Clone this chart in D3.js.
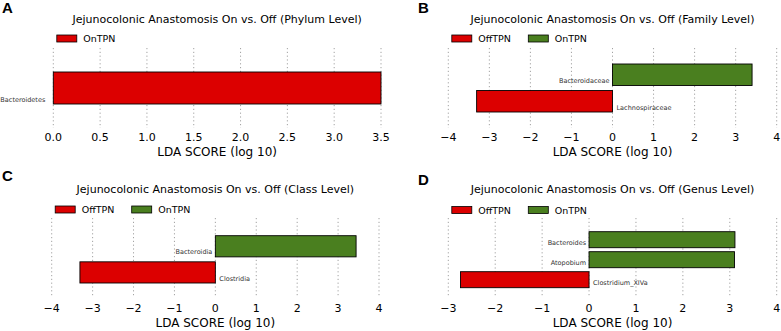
<!DOCTYPE html>
<html>
<head>
<meta charset="utf-8">
<script src="https://cdn.jsdelivr.net/npm/d3@7"></script>
<style>
  body { margin: 0; background: #fff; }
  svg { display: block; font-family: "DejaVu Sans", sans-serif; }
  .grid line { stroke: #8a8a8a; stroke-width: 0.8; stroke-dasharray: 1.2,2.6; }
  .tick-label { font-size: 11px; fill: #000; text-anchor: middle; }
  .feat-label { font-size: 6.5px; fill: #333; }
</style>
</head>
<body>
<div id="chart"></div>
<script>
// data
var phylumNames = ['Bacteroidetes'];
var phylumScores = [3.5];

var familyNames = ['Bacteroidaceae', 'Lachnospiraceae'];
var familyScores = [3.40, -3.31];

var classNames = ['Bacteroidia', 'Clostridia'];
var classScores = [3.44, -3.31];

var genusNames = ['Bacteroides', 'Atopobium', 'Clostridium_XIVa'];
var genusScores = [3.11, 3.10, -2.74];

var phylumTicks = [0, 0.5, 1, 1.5, 2, 2.5, 3, 3.5];
var wideTicks = [-4, -3, -2, -1, 0, 1, 2, 3, 4];
var genusTicks = [-3, -2, -1, 0, 1, 2, 3, 4];

var red = '#dc0000';
var green = '#4a7f1f';

var svgWidth = 781;
var svgHeight = 331;

var svg = d3.select('#chart')
  .append('svg')
  .attr('width', svgWidth)
  .attr('height', svgHeight);

svg.append('rect').attr('width', svgWidth).attr('height', svgHeight).attr('fill', '#fff');

// panel layouts; legend entries carry their own colour (panel A draws OnTPN in red)
var panels = [
  { letter: 'A', lx: 2, ly: 13, titleY: 23, title: 'Jejunocolonic Anastomosis On vs. Off (Phylum Level)',
    names: phylumNames, scores: phylumScores, ticks: phylumTicks, fmt: d3.format('.1f'),
    domain: [0, 3.5], x0: 53.3, x1: 381, top: 48, bottom: 128, barTop: 72, barBottom: 104, pad: 0,
    gap: 8, legend: [['OnTPN', red]], posColor: red, negColor: red, legY: 35, tickY: 140.5, labelY: 155.5 },
  { letter: 'B', lx: 418, ly: 13, titleY: 23, title: 'Jejunocolonic Anastomosis On vs. Off (Family Level)',
    names: familyNames, scores: familyScores, ticks: wideTicks, fmt: d3.format('d'),
    domain: [-4, 4], x0: 448.3, x1: 776.7, top: 48, bottom: 128, barTop: 64, barBottom: 112, pad: 0.19,
    gap: 3, legend: [['OffTPN', red], ['OnTPN', green]], posColor: green, negColor: red,
    legY: 35, tickY: 140.5, labelY: 155.5 },
  { letter: 'C', lx: 2, ly: 181, titleY: 193, title: 'Jejunocolonic Anastomosis On vs. Off (Class Level)',
    names: classNames, scores: classScores, ticks: wideTicks, fmt: d3.format('d'),
    domain: [-4, 4], x0: 51.7, x1: 379, top: 218, bottom: 297, barTop: 235.7, barBottom: 283, pad: 0.19,
    gap: 3, legend: [['OffTPN', red], ['OnTPN', green]], posColor: green, negColor: red,
    legY: 206, tickY: 311.5, labelY: 326.5 },
  { letter: 'D', lx: 418, ly: 185, titleY: 193, title: 'Jejunocolonic Anastomosis On vs. Off (Genus Level)',
    names: genusNames, scores: genusScores, ticks: genusTicks, fmt: d3.format('d'),
    domain: [-3, 4], x0: 448.3, x1: 776.7, top: 218, bottom: 297, barTop: 231.7, barBottom: 287.7, pad: 0.2,
    gap: 3, legend: [['OffTPN', red], ['OnTPN', green]], posColor: green, negColor: red,
    legY: 206.5, tickY: 311.5, labelY: 326.5 }
];

panels.forEach(drawPanel);

function drawPanel(p) {
  var g = svg.append('g');
  var xScale = d3.scaleLinear().domain(p.domain).range([p.x0, p.x1]);
  var yScale = d3.scaleBand().domain(p.names).range([p.barTop, p.barBottom])
    .paddingInner(p.pad).paddingOuter(0);
  var midX = (p.x0 + p.x1) / 2;

  // panel letter
  g.append('text')
    .attr('x', p.lx).attr('y', p.ly)
    .style('font-family', '"Liberation Sans", Arial, sans-serif')
    .style('font-weight', 'bold').style('font-size', '15px')
    .text(p.letter);

  g.append('text')
    .attr('x', midX).attr('y', p.titleY)
    .attr('text-anchor', 'middle')
    .style('font-size', '11px')
    .text(p.title);

  // legend
  p.legend.forEach(function(item, i) {
    var lx = p.x0 + 3.5 + i * 76.5;
    g.append('rect')
      .attr('x', lx).attr('y', p.legY)
      .attr('width', 20).attr('height', 7)
      .attr('fill', item[1])
      .attr('stroke', '#000').attr('stroke-width', 0.8);
    g.append('text')
      .attr('x', lx + 26.5).attr('y', p.legY + 7)
      .style('font-size', '9.5px')
      .text(item[0]);
  });

  // dotted grid at each tick
  g.append('g').attr('class', 'grid')
    .selectAll('line')
    .data(p.ticks)
    .enter()
    .append('line')
    .attr('x1', d => xScale(d)).attr('x2', d => xScale(d))
    .attr('y1', p.top).attr('y2', p.bottom);

  g.selectAll('.tick-label')
    .data(p.ticks)
    .enter()
    .append('text')
    .attr('class', 'tick-label')
    .attr('x', d => xScale(d))
    .attr('y', p.tickY)
    .text(d => p.fmt(d).replace('-', '\u2212'));

  g.append('text')
    .attr('x', midX).attr('y', p.labelY)
    .attr('text-anchor', 'middle')
    .style('font-size', '12px')
    .text('LDA SCORE (log 10)');

  var rows = p.names.map(function(n, i) { return { name: n, score: p.scores[i] }; });

  g.selectAll('.bar')
    .data(rows)
    .enter()
    .append('rect')
    .attr('class', 'bar')
    .attr('x', d => xScale(Math.min(0, d.score)))
    .attr('y', d => yScale(d.name))
    .attr('width', d => Math.abs(xScale(d.score) - xScale(0)))
    .attr('height', yScale.bandwidth())
    .attr('fill', d => d.score > 0 ? p.posColor : p.negColor)
    .attr('stroke', '#000')
    .attr('stroke-width', 0.9);

  g.selectAll('.feat-label')
    .data(rows)
    .enter()
    .append('text')
    .attr('class', 'feat-label')
    .attr('x', d => d.score > 0 ? xScale(0) - p.gap : xScale(0) + p.gap + 1)
    .attr('y', d => yScale(d.name) + yScale.bandwidth() - 2.5)
    .attr('text-anchor', d => d.score > 0 ? 'end' : 'start')
    .text(d => d.name);
}
</script>
</body>
</html>
